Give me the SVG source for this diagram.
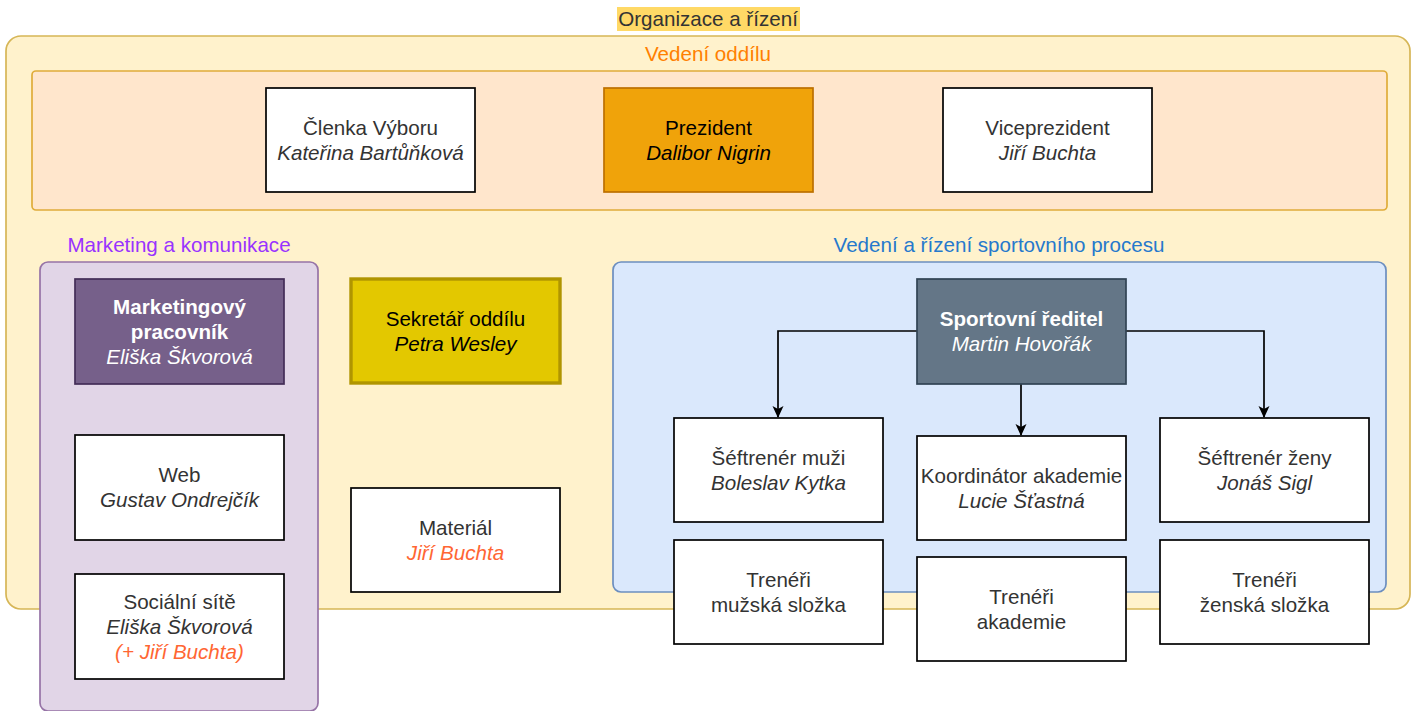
<svg xmlns="http://www.w3.org/2000/svg" width="1416" height="711" viewBox="0 0 1416 711">
<style>
text{font-family:"Liberation Sans",Arial,Helvetica,sans-serif;font-size:20.6px;text-anchor:middle;fill:#333333}
.i{font-style:italic}
.b{font-weight:bold}
.w{fill:#ffffff}
.r{fill:#FF6633}
.box{fill:#ffffff;stroke:#000000;stroke-width:1.7}
.conn{fill:none;stroke:#000000;stroke-width:1.7}
</style>
<defs>
<marker id="arr" viewBox="0 0 12 12" refX="11" refY="6" markerWidth="12" markerHeight="12" markerUnits="userSpaceOnUse" orient="auto">
<path d="M0,0.5 L12,6 L0,11.5 L3,6 Z" fill="#000000"/>
</marker>
</defs>
<rect width="1416" height="711" fill="#ffffff"/>
<g id="org">
<rect x="6" y="36" width="1404" height="573" rx="15" fill="#fff2cc" stroke="#d6b656" stroke-width="1.7"/>
<rect x="617" y="7" width="183" height="24" fill="#FFD966"/>
<text x="708" y="26.3">Organizace a řízení</text>
</g>
<g id="vedeni-oddilu">
<rect x="32" y="71" width="1355" height="139" rx="4" fill="#ffe6cc" stroke="#e0ac3a" stroke-width="1.7"/>
<text x="708" y="61.3" style="fill:#FF8000">Vedení oddílu</text>
</g>
<g id="marketing">
<rect x="40" y="262" width="278" height="449" rx="8" fill="#e1d5e7" stroke="#9673a6" stroke-width="1.7"/>
<text x="179" y="252.3" style="fill:#9933FF">Marketing a komunikace</text>
</g>
<g id="sport">
<rect x="613" y="262" width="773" height="330" rx="8" fill="#dae8fc" stroke="#6c8ebf" stroke-width="1.7"/>
<text x="999" y="252.3" style="fill:#2679CC">Vedení a řízení sportovního procesu</text>
</g>
<g id="clenka">
<rect class="box" x="266" y="88" width="209" height="104"/>
<text x="370.5" y="134.8">Členka Výboru</text>
<text class="i" x="370.5" y="159.8">Kateřina Bartůňková</text>
</g>
<g id="prezident">
<rect x="604" y="88" width="209" height="104" fill="#f0a30a" stroke="#BD7000" stroke-width="1.7"/>
<text x="708.5" y="134.8" style="fill:#000">Prezident</text>
<text class="i" x="708.5" y="159.8" style="fill:#000">Dalibor Nigrin</text>
</g>
<g id="viceprezident">
<rect class="box" x="943" y="88" width="209" height="104"/>
<text x="1047.5" y="134.8">Viceprezident</text>
<text class="i" x="1047.5" y="159.8">Jiří Buchta</text>
</g>
<g id="marketingovy">
<rect x="75" y="279" width="209" height="105" fill="#76608a" stroke="#432D57" stroke-width="1.7"/>
<text class="b w" x="179.5" y="313.8">Marketingový</text>
<text class="b w" x="179.5" y="338.8">pracovník</text>
<text class="i w" x="179.5" y="363.8">Eliška Škvorová</text>
</g>
<g id="web">
<rect class="box" x="75" y="435" width="209" height="105"/>
<text x="179.5" y="482.3">Web</text>
<text class="i" x="179.5" y="507.3">Gustav Ondrejčík</text>
</g>
<g id="socialni">
<rect class="box" x="75" y="574" width="209" height="105"/>
<text x="179.5" y="608.8">Sociální sítě</text>
<text class="i" x="179.5" y="633.8">Eliška Škvorová</text>
<text class="i r" x="179.5" y="658.8">(+ Jiří Buchta)</text>
</g>
<g id="sekretar">
<rect x="351" y="279" width="209" height="104" fill="#e3c800" stroke="#B09500" stroke-width="3.4"/>
<text x="455.5" y="325.8" style="fill:#000">Sekretář oddílu</text>
<text class="i" x="455.5" y="350.8" style="fill:#000">Petra Wesley</text>
</g>
<g id="material">
<rect class="box" x="351" y="488" width="209" height="104"/>
<text x="455.5" y="534.8">Materiál</text>
<text class="i r" x="455.5" y="559.8">Jiří Buchta</text>
</g>
<g id="connectors">
<path class="conn" d="M917,331 H778 V417" marker-end="url(#arr)"/>
<path class="conn" d="M1126,331 H1264 V417" marker-end="url(#arr)"/>
<path class="conn" d="M1021,384 V435" marker-end="url(#arr)"/>
</g>
<g id="sportovni">
<rect x="917" y="279" width="209" height="105" fill="#647687" stroke="#314354" stroke-width="1.7"/>
<text class="b w" x="1021.5" y="326.3">Sportovní ředitel</text>
<text class="i w" x="1021.5" y="351.3">Martin Hovořák</text>
</g>
<g id="sef-muzi">
<rect class="box" x="674" y="418" width="209" height="104"/>
<text x="778.5" y="464.8">Šéftrenér muži</text>
<text class="i" x="778.5" y="489.8">Boleslav Kytka</text>
</g>
<g id="koordinator">
<rect class="box" x="917" y="436" width="209" height="104"/>
<text x="1021.5" y="482.8">Koordinátor akademie</text>
<text class="i" x="1021.5" y="507.8">Lucie Šťastná</text>
</g>
<g id="sef-zeny">
<rect class="box" x="1160" y="418" width="209" height="104"/>
<text x="1264.5" y="464.8">Šéftrenér ženy</text>
<text class="i" x="1264.5" y="489.8">Jonáš Sigl</text>
</g>
<g id="treneri-muzi">
<rect class="box" x="674" y="540" width="209" height="104"/>
<text x="778.5" y="586.8">Trenéři</text>
<text x="778.5" y="611.8">mužská složka</text>
</g>
<g id="treneri-akademie">
<rect class="box" x="917" y="557" width="209" height="104"/>
<text x="1021.5" y="603.8">Trenéři</text>
<text x="1021.5" y="628.8">akademie</text>
</g>
<g id="treneri-zeny">
<rect class="box" x="1160" y="540" width="209" height="104"/>
<text x="1264.5" y="586.8">Trenéři</text>
<text x="1264.5" y="611.8">ženská složka</text>
</g>
</svg>
